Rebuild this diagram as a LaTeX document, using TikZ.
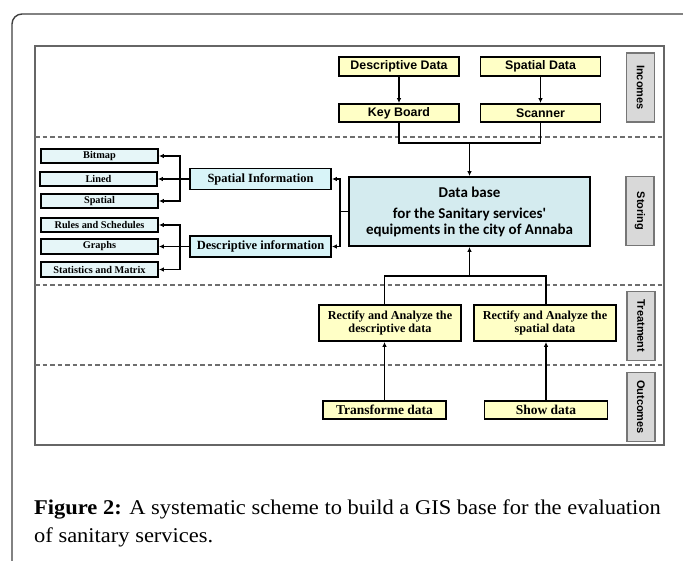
\documentclass[tikz,border=0pt]{standalone}
\usepackage{fontspec}
\setmainfont{Liberation Serif}
\setsansfont{Liberation Sans}
\newfontfamily\dbfont{Carlito}
\newfontfamily\capfont{Liberation Serif}[FakeStretch=1.07]
\usetikzlibrary{arrows.meta}
\definecolor{yfill}{HTML}{FFFFC6}
\definecolor{dbfill}{HTML}{D4EBEF}
\definecolor{infofill}{HTML}{D8F4F8}
\definecolor{leaffill}{HTML}{E6F6F8}
\definecolor{labfill}{HTML}{D9D9D9}
\definecolor{labdraw}{HTML}{767676}
\definecolor{framec}{HTML}{404040}
\definecolor{innerc}{HTML}{666666}
\definecolor{dashc}{HTML}{6E6E6E}
\tikzset{
  boxbase/.style={draw=black, line width=1.8pt, inner sep=0pt, align=center},
  ybox/.style={boxbase, fill=yfill, minimum width=120pt, minimum height=19pt,
    font=\sffamily\bfseries\fontsize{12.4}{13}\selectfont},
  leaf/.style={boxbase, fill=leaffill, minimum width=117pt, minimum height=14.5pt,
    font=\bfseries\fontsize{10.3}{11}\selectfont},
  info/.style={boxbase, fill=infofill, minimum width=141pt, minimum height=21pt,
    font=\bfseries\fontsize{12.5}{13}\selectfont},
  dbbox/.style={boxbase, fill=dbfill, minimum width=241pt, minimum height=69pt,
    font=\dbfont\bfseries\fontsize{15}{16}\selectfont},
  tbox/.style={boxbase, fill=yfill, minimum width=142pt, minimum height=36pt,
    font=\bfseries\fontsize{12.2}{12.5}\selectfont},
  obox/.style={boxbase, fill=yfill, minimum width=123pt, minimum height=18pt,
    font=\bfseries\fontsize{13.5}{14}\selectfont},
  lab/.style={draw=labdraw, line width=1.3pt, fill=labfill, inner sep=0pt, rotate=-90,
    minimum width=69pt, minimum height=28pt, font=\sffamily\bfseries\fontsize{11}{12}\selectfont},
  conn/.style={line width=1.9pt, line join=miter},
  arr/.style={conn, -{Latex[length=5pt,width=4.5pt]}},
  dashline/.style={draw=dashc, line width=1.4pt, dash pattern=on 4.5pt off 3pt},
}
\begin{document}
\begin{tikzpicture}[x=1pt,y=-1pt]
\clip (0,0) rectangle (683,560);
\fill[white] (0,0) rectangle (683,560);
% outer frame
\draw[framec, line width=1.4pt, rounded corners=10pt] (12,14) rectangle (694,610);
% inner frame
\draw[innerc, line width=1.4pt] (35,46) rectangle (664,445);
% separators
\draw[dashline] (35,137) -- (664,137);
\draw[dashline] (35,285) -- (664,285);
\draw[dashline] (35,365) -- (664,365);

% side labels
\node[lab] (inc) at (640.5,87.5) {Incomes};
\node[lab] (sto) at (640,211) {Storing};
\node[lab] (tre) at (641,326) {Treatment};
\node[lab] (out) at (641,407) {Outcomes};

% incomes
\node[ybox] (DescD) at (399,66.5) {Descriptive Data};
\node[ybox] (SpatD) at (540.5,66.5) {Spatial Data};
\node[ybox, minimum height=18pt] (KeyB) at (399,113) {Key Board};
\node[ybox, minimum height=18pt] (Scan) at (540.5,113) {Scanner};

% storing
\node[dbbox] (DB) at (469.5,211.5) {Data base\\[5pt]for the Sanitary services'\\equipments in the city of Annaba};
\node[info] (SI) at (260.5,179) {Spatial Information};
\node[info] (DI) at (260.5,246.5) {Descriptive information};
\node[leaf] (Bitmap) at (99.5,156) {Bitmap};
\node[leaf] (Lined) at (98.5,179) {Lined};
\node[leaf] (Spatial) at (99.5,201) {Spatial};
\node[leaf] (Rules) at (99.5,225) {Rules and Schedules};
\node[leaf] (Graphs) at (99.5,246.5) {Graphs};
\node[leaf] (Stats) at (99.5,269.5) {Statistics and Matrix};

% treatment
\node[tbox] (TL) at (390,323) {Rectify and Analyze the\\descriptive data};
\node[tbox] (TR) at (545,323) {Rectify and Analyze the\\spatial data};

% outcomes
\node[obox] (TD) at (384.5,410) {Transforme data};
\node[obox] (SD) at (546,410) {Show data};

% connectors: incomes
\draw[arr] (DescD.south) -- (KeyB.north);
\draw[arr] (SpatD.south) -- (Scan.north);
\coordinate (tjy) at (0,143);
\draw[conn] (KeyB.south) -- (KeyB.south |- tjy) -- (Scan.south |- tjy) -- (Scan.south);
\draw[arr] (DB.north |- tjy) -- (DB.north);

% connectors: storing
\coordinate (rb) at ([xshift=-8pt]DB.west);
\draw[conn] (DB.west) -- (rb);
\draw[arr] (rb) |- (SI.east);
\draw[arr] (rb) |- (DI.east);
\coordinate (lbs) at ([xshift=-9pt]SI.west);
\draw[conn] (SI.west) -- (lbs);
\draw[arr] (lbs) |- (Bitmap.east);
\draw[arr] (lbs) -- (Lined.east);
\draw[arr] (lbs) |- (Spatial.east);
\coordinate (lbd) at ([xshift=-9pt]DI.west);
\draw[conn] (DI.west) -- (lbd);
\draw[arr] (lbd) |- (Rules.east);
\draw[arr] (lbd) -- (Graphs.east);
\draw[arr] (lbd) |- (Stats.east);

% connectors: treatment
\coordinate (bjy) at (0,276);
\draw[conn] (TL.north -| TD.north) -- (TD.north |- bjy) -- (SD.north |- bjy) -- (TR.north -| SD.north);
\draw[arr] (DB.south |- bjy) -- (DB.south);
\draw[arr] (TD.north) -- (TD.north |- TL.south);
\draw[arr] (SD.north) -- (SD.north |- TR.south);

% caption
\node[anchor=base west, inner sep=0pt, font=\capfont\fontsize{21}{25}\selectfont] (cap1) at (34,514)
  {\textbf{Figure 2:} A systematic scheme to build a GIS base for the evaluation};
\node[anchor=base west, inner sep=0pt, font=\capfont\fontsize{21}{25}\selectfont] (cap2) at (34,542)
  {of sanitary services.};
\end{tikzpicture}
\end{document}
